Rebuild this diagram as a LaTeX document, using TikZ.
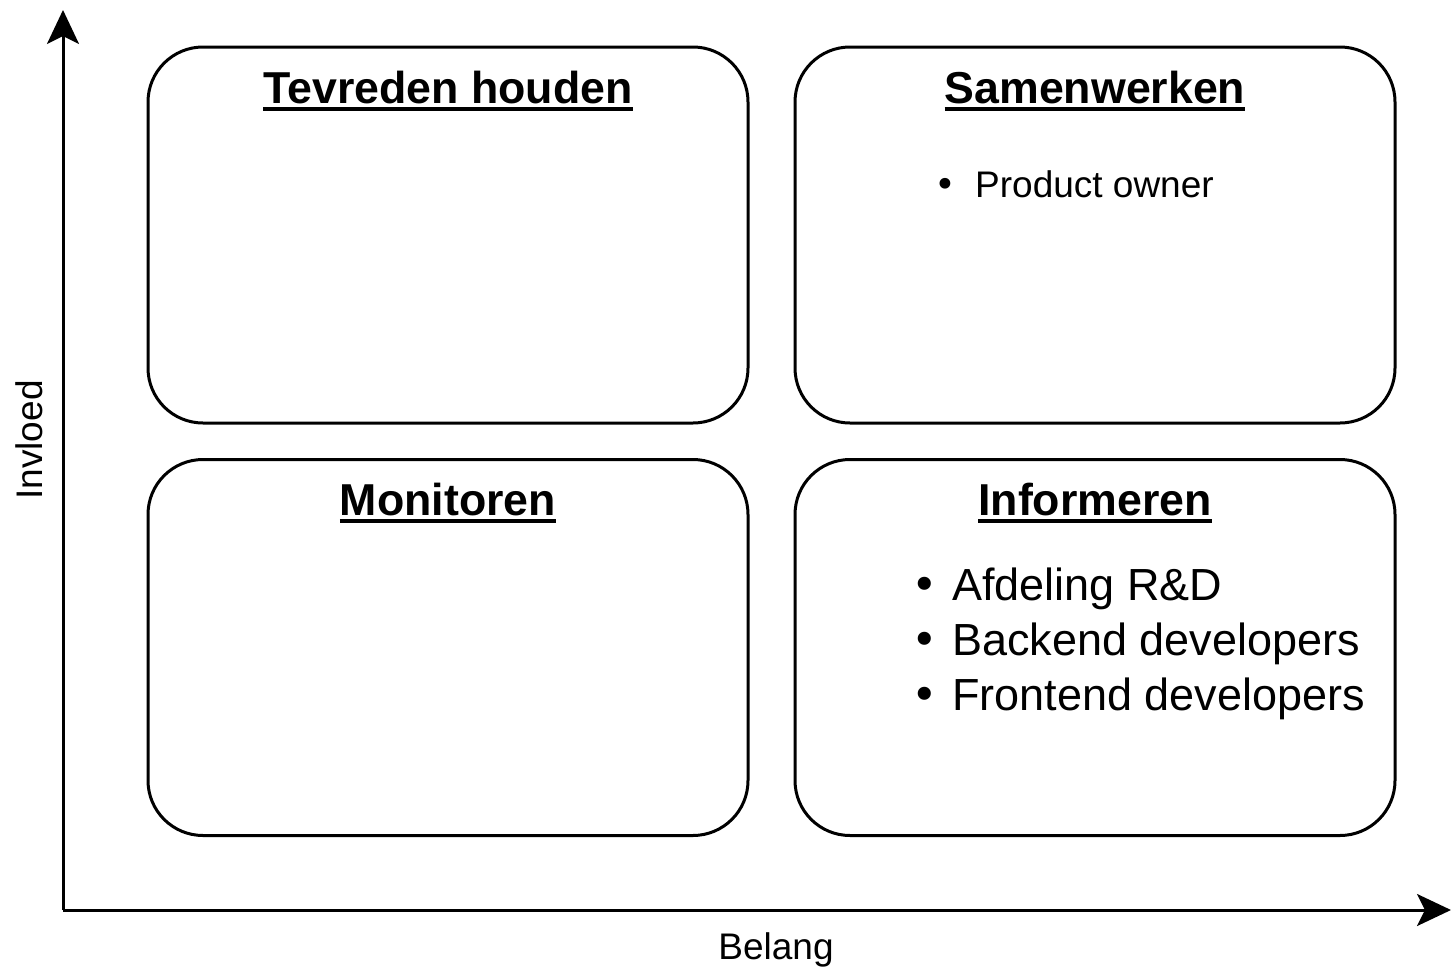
\documentclass[tikz,border=0pt]{standalone}
\usepackage{fontspec}
\setmainfont{Liberation Sans}
\newfontfamily\puntfont{DejaVu Sans}
\usepackage{tikz}
\usetikzlibrary{arrows.meta}

\newcommand\onderstreep[1]{\setbox0\hbox{#1}\rlap{\rule[-8pt]{\wd0}{4pt}}\box0}
\newcommand\punt{\makebox[41pt][l]{\puntfont •}}

\begin{document}
\begin{tikzpicture}[x=1pt,y=-1pt]
	\tikzstyle{vak}=[rectangle,draw=black,line width=3pt,rounded corners=55pt,
	minimum width=600pt,minimum height=376pt]
	\tikzstyle{titel}=[anchor=base,inner sep=0pt,font=\fontsize{44.7}{53}\selectfont\bfseries]
	\tikzstyle{groot}=[anchor=base west,inner sep=0pt,font=\fontsize{45}{54}\selectfont]
	\tikzstyle{klein}=[anchor=base west,inner sep=0pt,font=\fontsize{37}{44}\selectfont]
	\tikzstyle{as}=[line width=3pt,-{Stealth[length=34pt,width=32pt,inset=8pt]}]

	\useasboundingbox (0,0) rectangle (1456,977);

	\node[vak] (tevreden) at (448,235) {};
	\node[vak] (samen) at (1095,235) {};
	\node[vak] (monitor) at (448,647.5) {};
	\node[vak] (inform) at (1095,647.5) {};

	\node[titel] (t1) at (448,103) {\onderstreep{Tevreden houden}};
	\node[titel] (t2) at (1095,103) {\onderstreep{Samenwerken}};
	\node[titel] (t3) at (448,515) {\onderstreep{Monitoren}};
	\node[titel] (t4) at (1095,515) {\onderstreep{Informeren}};

	\node[klein] (s1) at (934,197) {\punt Product owner};
	\node[groot] (i1) at (911,600) {\punt Afdeling R\&D};
	\node[groot] (i2) at (911,655) {\punt Backend developers};
	\node[groot] (i3) at (911,710) {\punt Frontend developers};

	\coordinate (oorsprong) at (63,910);
	\coordinate (ytop) at (63,10);
	\coordinate (xeind) at (1451,910);
	\draw[as] (oorsprong) -- (ytop);
	\draw[as] (oorsprong) -- (xeind);

	\node[klein,anchor=base] (belang) at (776,959) {Belang};
	\node[klein,anchor=base,rotate=90] (invloed) at (42,440) {Invloed};
\end{tikzpicture}
\end{document}
